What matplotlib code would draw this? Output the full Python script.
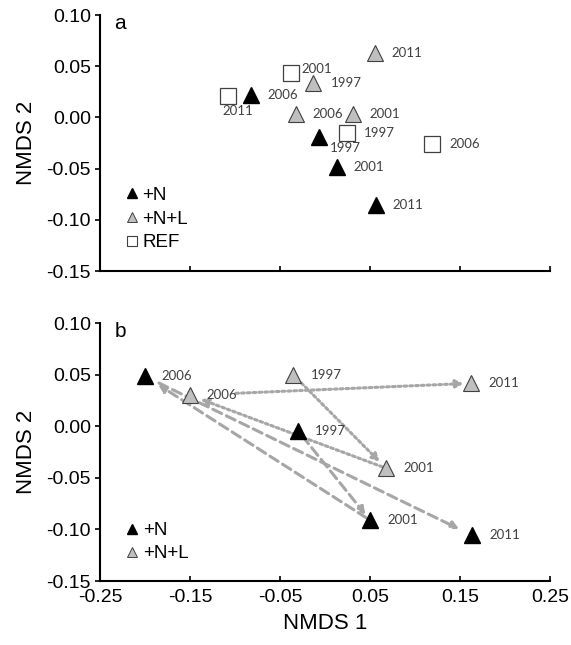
import numpy as np
import matplotlib
matplotlib.use("Agg")
from matplotlib import pyplot as plt
from matplotlib.lines import Line2D

plt.rcParams['font.family'] = ['Liberation Sans', 'DejaVu Sans']

#Data
years = ["1997", "2001", "2006", "2011"]

#Panel a
a_n_x = [-0.0067, 0.013, -0.082, 0.0567]
a_n_y = [-0.0194, -0.048, 0.0219, -0.0855]
a_nl_x = [-0.013, 0.0308, -0.032, 0.0556]
a_nl_y = [0.0339, 0.003, 0.003, 0.0626]
a_ref_x = [0.024, -0.038, 0.119, -0.108]
a_ref_y = [-0.0155, 0.0437, -0.0263, 0.0209]

#Panel b
b_n_x = [-0.030, 0.050, -0.1997, 0.163]
b_n_y = [-0.0043, -0.091, 0.0483, -0.1055]
b_nl_x = [-0.035, 0.068, -0.150, 0.162]
b_nl_y = [0.0496, -0.0408, 0.030, 0.0416]

x_ticks = [-0.25, -0.15, -0.05, 0.05, 0.15, 0.25]
y_ticks = [-0.15, -0.10, -0.05, 0.00, 0.05, 0.10]

GRAY = "#BFBFBF"
EDGE = "#404040"
ARROW = "#A6A6A6"
LABEL_COLOR = "#404040"


def style_axes(ax, show_xlabels):
    ax.set_xlim(-0.25, 0.25)
    ax.set_ylim(-0.15, 0.10)
    ax.set_xticks(x_ticks)
    ax.set_yticks(y_ticks)
    ax.set_yticklabels(["%.2f" % v for v in y_ticks])
    if show_xlabels:
        ax.set_xticklabels(["%.2f" % v for v in x_ticks])
    else:
        ax.set_xticklabels([])
    ax.spines['top'].set_visible(False)
    ax.spines['right'].set_visible(False)
    ax.spines['left'].set_linewidth(1.5)
    ax.spines['bottom'].set_linewidth(1.5)
    ax.tick_params(axis='y', direction='out', length=3.5, width=1.2, labelsize=14, pad=3)
    ax.tick_params(axis='x', direction='in', length=3.5, width=1.2, labelsize=14, pad=6)
    ax.set_ylabel("NMDS 2", fontsize=16, labelpad=7)


def year_labels(ax, xs, ys, offsets):
    for x, y, yr, off in zip(xs, ys, years, offsets):
        ax.annotate(yr, (x, y), xytext=off, textcoords='offset points',
                    fontsize=9.5, family='Lato', color=LABEL_COLOR,
                    ha='left', va='center')


fig = plt.figure(figsize=(5.71, 6.45), dpi=100)
ax_a = fig.add_axes([0.1751, 0.5798, 0.788, 0.3969])
ax_b = fig.add_axes([0.1751, 0.0992, 0.788, 0.4000])

#Panel a
ax_a.plot(a_n_x, a_n_y, '^', color='black', ms=11.5, ls='none', zorder=3)
ax_a.plot(a_nl_x, a_nl_y, '^', mfc=GRAY, mec=EDGE, mew=0.8, ms=11.5, ls='none', zorder=3)
ax_a.plot(a_ref_x, a_ref_y, 's', mfc='white', mec=EDGE, mew=0.9, ms=11, ls='none', zorder=3)
year_labels(ax_a, a_n_x, a_n_y, [(8, -7.5), (12, 0), (12, 0), (12, 0)])
year_labels(ax_a, a_nl_x, a_nl_y, [(12.5, 0), (12, 0), (12, 0), (12, 0)])
year_labels(ax_a, a_ref_x, a_ref_y, [(12.5, 0), (7.5, 3), (12.5, 0), (-3.5, -11)])
style_axes(ax_a, False)
ax_a.text(0.044, 0.968, "a", transform=ax_a.transAxes, fontsize=15,
          ha='center', va='center')

handles_a = [
    Line2D([], [], marker='^', color='black', ls='none', ms=7.5),
    Line2D([], [], marker='^', mfc=GRAY, mec=EDGE, mew=0.7, ls='none', ms=7.5),
    Line2D([], [], marker='s', mfc='white', mec=EDGE, mew=0.8, ls='none', ms=7),
]
ax_a.legend(handles_a, ["+N", "+N+L", "REF"], loc='lower left',
            bbox_to_anchor=(0.038, 0.04), frameon=False, fontsize=13.5,
            handlelength=0.6, handletextpad=0.25, labelspacing=0.35, borderpad=0)

#Panel b: trajectories 1997 -> 2001 -> 2006 -> 2011
n_shrink = [(5, 5), (3, 11), (11, 10)]
nl_shrink = [(8, 6.5), (3, 8), (33, 5)]
for k in range(3):
    i, j = k, k + 1
    ax_b.annotate("", xy=(b_n_x[j], b_n_y[j]), xytext=(b_n_x[i], b_n_y[i]),
                  arrowprops=dict(arrowstyle='-|>', color=ARROW, lw=2.2,
                                  linestyle=(0, (3.2, 1.7)), mutation_scale=11,
                                  shrinkA=n_shrink[k][0], shrinkB=n_shrink[k][1]),
                  zorder=1)
    ax_b.annotate("", xy=(b_nl_x[j], b_nl_y[j]), xytext=(b_nl_x[i], b_nl_y[i]),
                  arrowprops=dict(arrowstyle='-|>', color=ARROW, lw=2.2,
                                  linestyle=(0, (0.9, 1.0)), mutation_scale=11,
                                  shrinkA=nl_shrink[k][0], shrinkB=nl_shrink[k][1]),
                  zorder=1)

ax_b.plot(b_n_x, b_n_y, '^', color='black', ms=11, ls='none', zorder=3)
ax_b.plot(b_nl_x, b_nl_y, '^', mfc=GRAY, mec=EDGE, mew=0.8, ms=11, ls='none', zorder=3)
year_labels(ax_b, b_n_x, b_n_y, [(12.5, 0), (12.5, 0), (12, 0), (12.5, 0)])
year_labels(ax_b, b_nl_x, b_nl_y, [(12.5, 0), (12.5, 0), (12, 0), (12.5, 0)])
style_axes(ax_b, True)
ax_b.set_xlabel("NMDS 1", fontsize=16, labelpad=5)
ax_b.text(0.046, 0.966, "b", transform=ax_b.transAxes, fontsize=15,
          ha='center', va='center')

handles_b = handles_a[:2]
ax_b.legend(handles_b, ["+N", "+N+L"], loc='lower left',
            bbox_to_anchor=(0.038, 0.037), frameon=False, fontsize=13.5,
            handlelength=0.6, handletextpad=0.3, labelspacing=0.3, borderpad=0)

fig.savefig("out.png", dpi=100)
